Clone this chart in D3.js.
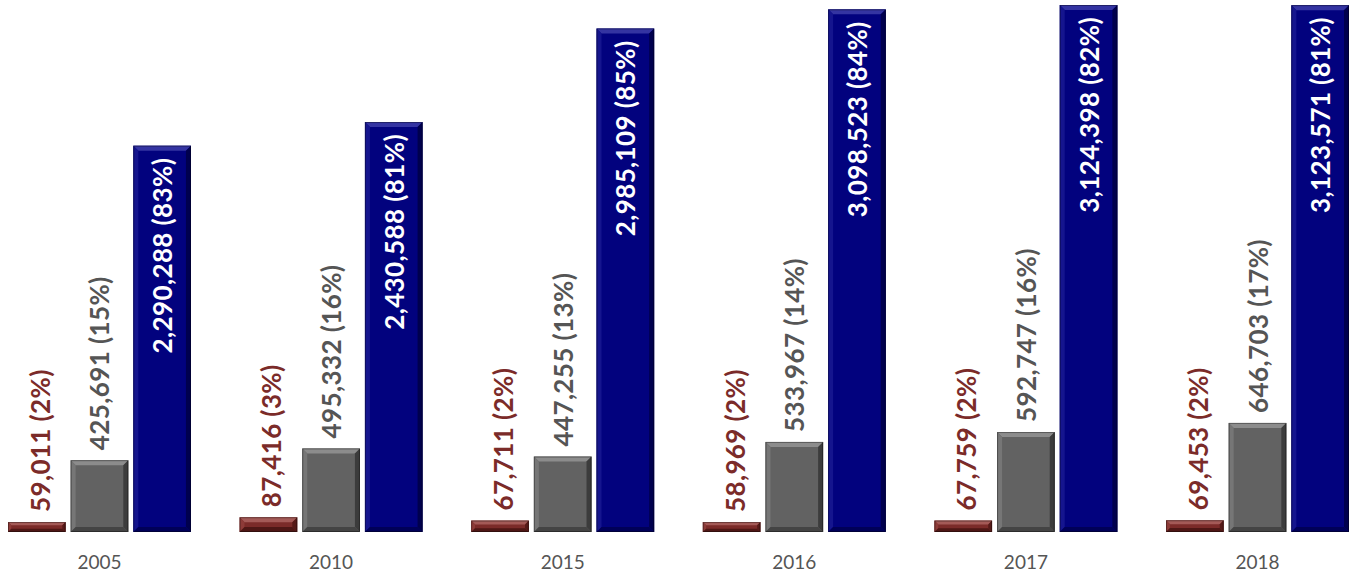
<!DOCTYPE html>
<html>
<head>
<meta charset="utf-8">
<script src="https://cdn.jsdelivr.net/npm/d3@7"></script>
<style>
  html, body { margin: 0; padding: 0; background: #fff; }
  svg { display: block; }
</style>
</head>
<body>
<svg id="chart" width="1350" height="576"></svg>
<script>
// Yearly totals for three groups, with their share of the year's total
const years = ["2005", "2010", "2015", "2016", "2017", "2018"];
const seriesNames = ["small", "middle", "large"];
const smallValues = [59011, 87416, 67711, 58969, 67759, 69453];
const smallShares = ["2%", "3%", "2%", "2%", "2%", "2%"];
const middleValues = [425691, 495332, 447255, 533967, 592747, 646703];
const middleShares = ["15%", "16%", "13%", "14%", "16%", "17%"];
const largeValues = [2290288, 2430588, 2985109, 3098523, 3124398, 3123571];
const largeShares = ["83%", "81%", "85%", "84%", "82%", "81%"];

const palette = {
  small:  { face: "#7b2b29", top: "#a45a57", left: "#8d3b38", right: "#561a18", bottom: "#4e1715", label: "#7b2b29" },
  middle: { face: "#626262", top: "#8c8c8c", left: "#767676", right: "#3c3c3c", bottom: "#444444", label: "#555555" },
  large:  { face: "#02027e", top: "#3434a2", left: "#15158e", right: "#00004e", bottom: "#000058", label: "#ffffff" }
};

const rows = [];
years.forEach((yr, i) => {
  rows.push({ year: yr, key: "small",  value: smallValues[i],  share: smallShares[i] });
  rows.push({ year: yr, key: "middle", value: middleValues[i], share: middleShares[i] });
  rows.push({ year: yr, key: "large",  value: largeValues[i],  share: largeShares[i] });
});

const svg = d3.select("#chart");
const baseY = 532;

const x0 = d3.scaleBand().domain(years).range([8, 1349]).paddingInner(0.21).paddingOuter(0);
const x1 = d3.scaleBand().domain(seriesNames).range([0, x0.bandwidth()]).paddingInner(0.08).paddingOuter(0);
const y = d3.scaleLinear().domain([0, 3124398]).range([baseY, 5]);

const fmt = d3.format(",");

// Bevelled bars: a face plus four shaded edge trapezoids
svg.append("g").selectAll("g.bar")
  .data(rows).join("g").attr("class", "bar")
  .each(function (d) {
    const g = d3.select(this);
    const c = palette[d.key];
    const xl = x0(d.year) + x1(d.key);
    const xr = xl + x1.bandwidth();
    const yt = y(d.value);
    const yb = y(0);
    const h = yb - yt;
    const b = Math.min(5, h / 3);
    const pts = a => a.map(p => p.join(",")).join(" ");
    g.append("rect").attr("x", xl).attr("y", yt).attr("width", xr - xl).attr("height", h).attr("fill", c.face);
    g.append("polygon").attr("points", pts([[xl, yt], [xr, yt], [xr - b, yt + b], [xl + b, yt + b]])).attr("fill", c.top);
    g.append("polygon").attr("points", pts([[xl, yt], [xl + b, yt + b], [xl + b, yb - b], [xl, yb]])).attr("fill", c.left);
    g.append("polygon").attr("points", pts([[xr, yt], [xr, yb], [xr - b, yb - b], [xr - b, yt + b]])).attr("fill", c.right);
    g.append("polygon").attr("points", pts([[xl, yb], [xl + b, yb - b], [xr - b, yb - b], [xr, yb]])).attr("fill", c.bottom);
    g.append("rect").attr("x", xl + 0.5).attr("y", yt + 0.5).attr("width", xr - xl - 1).attr("height", Math.max(0, h - 1))
      .attr("fill", "none").attr("stroke", "rgba(0,0,0,0.35)").attr("stroke-width", 1);
  });

// Rotated value labels: above the two shorter bars, inside the tallest one
svg.append("g").selectAll("text")
  .data(rows).join("text")
  .attr("transform", d => {
    const cx = x0(d.year) + x1(d.key) + x1.bandwidth() / 2 + (d.key === "small" ? 3 : 0);
    const yy = d.key === "large" ? y(d.value) + 12 : y(d.value) - 10;
    return `translate(${cx},${yy}) rotate(-90)`;
  })
  .attr("text-anchor", d => d.key === "large" ? "end" : "start")
  .attr("dominant-baseline", "central")
  .attr("font-family", "Lato, 'Open Sans', sans-serif")
  .attr("font-weight", 700)
  .attr("font-size", 26)
  .attr("letter-spacing", 0.4)
  .attr("fill", d => palette[d.key].label)
  .text(d => `${fmt(d.value)} (${d.share})`);

// Year labels under each group
const axis = d3.axisBottom(x0).tickSize(0).tickPadding(0);
const ax = svg.append("g").attr("transform", `translate(0,${baseY})`).call(axis);
ax.select(".domain").remove();
ax.selectAll("text")
  .attr("y", 24)
  .attr("font-family", "Lato, 'Open Sans', sans-serif")
  .attr("font-size", 19)
  .attr("fill", "#555555");
</script>
</body>
</html>
